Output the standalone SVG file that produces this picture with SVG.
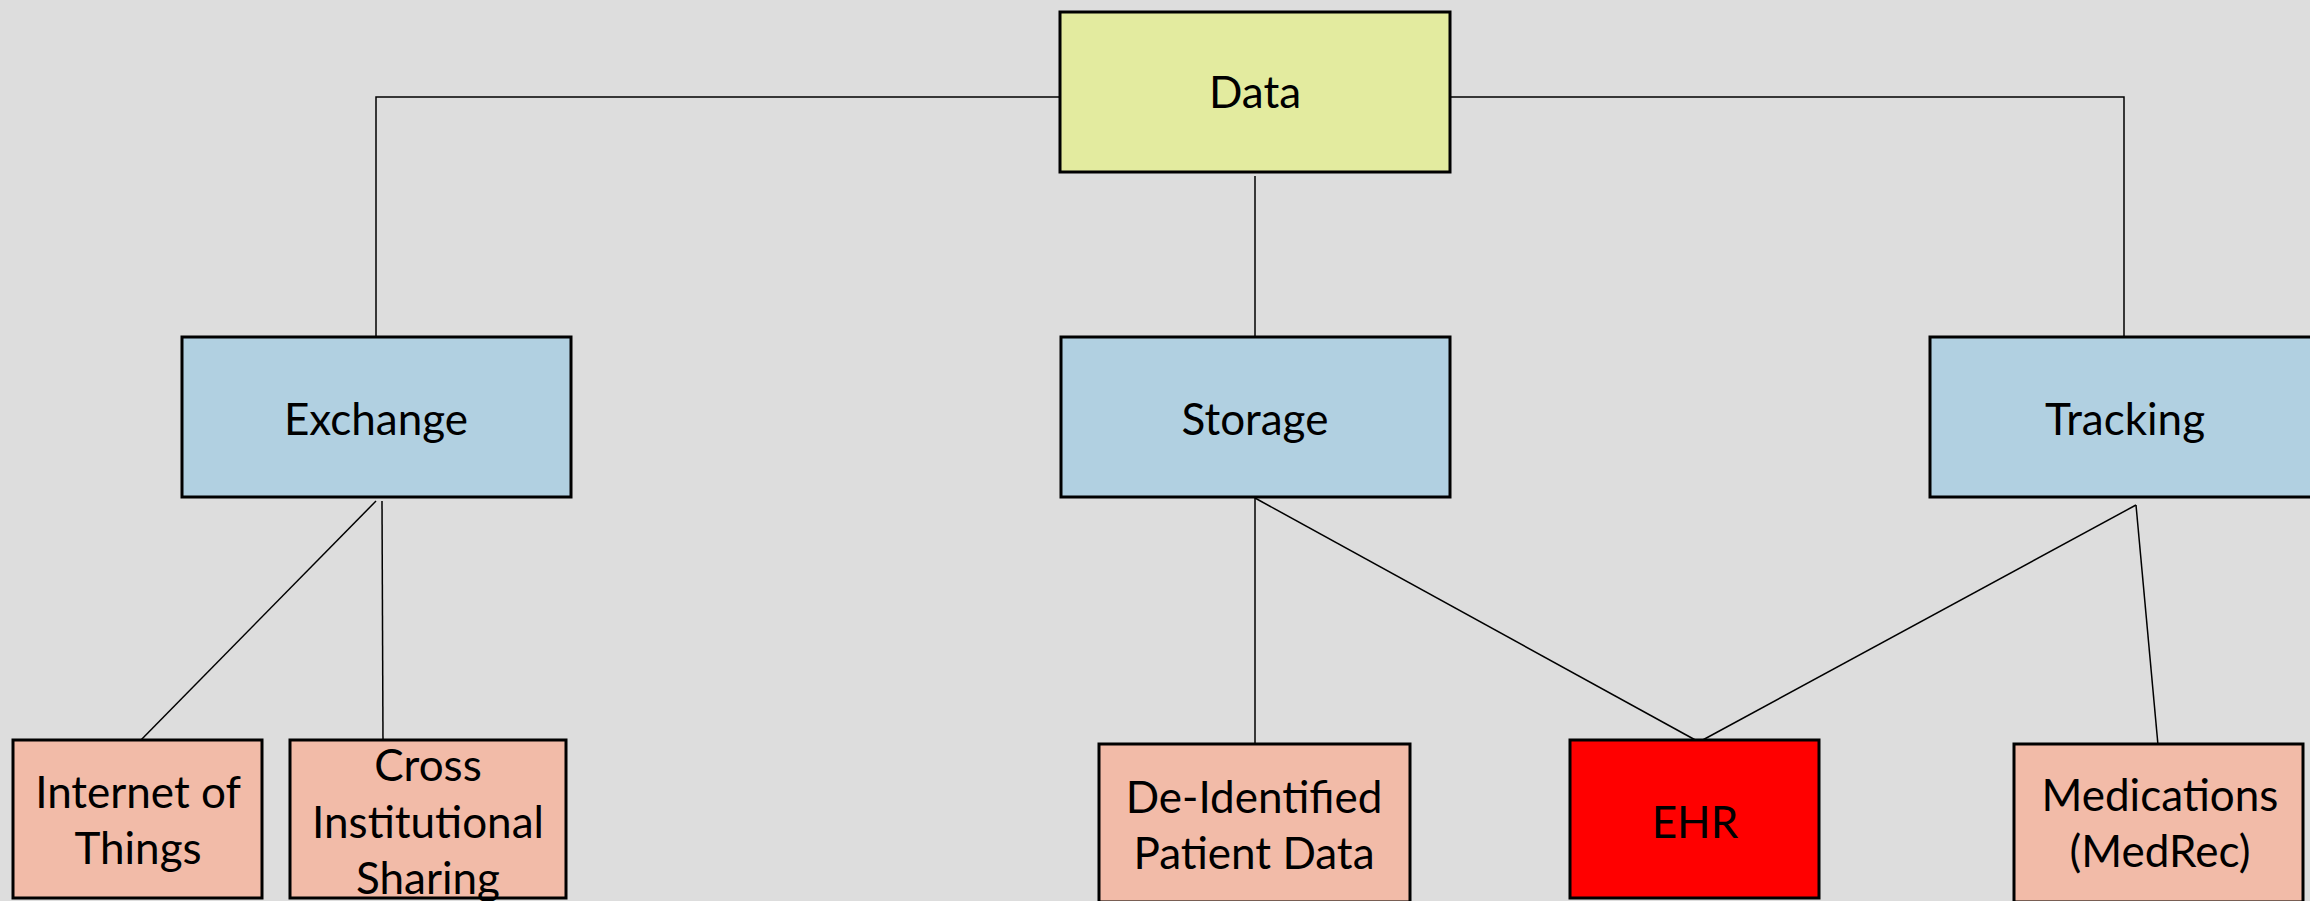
<svg xmlns="http://www.w3.org/2000/svg" width="2310" height="901" viewBox="0 0 2310 901">
<style>
.box{stroke:#000;stroke-width:3}
.top{fill:#e3eb9f}
.mid{fill:#b1d0e1}
.leaf{fill:#f2bba8}
.red{fill:#ff0000}
.lbl{font-family:Lato,"Liberation Sans",sans-serif;fill:#000;text-anchor:middle}
.big{font-size:44px}
.sm{font-size:44px}
.conn line,.conn polyline{stroke:#000;stroke-width:1.5;fill:none}
</style>
<rect x="0" y="0" width="2310" height="901" fill="#dddddd"/>
<g class="conn" id="connectors">
<polyline points="1060,97 376,97 376,342"/>
<polyline points="1450,97 2124,97 2124,342"/>
<line x1="1255" y1="176" x2="1255" y2="342"/>
<line x1="376" y1="501" x2="138" y2="743"/>
<line x1="382" y1="501" x2="383" y2="743"/>
<line x1="1255" y1="498" x2="1255" y2="744"/>
<line x1="1255" y1="498" x2="1699" y2="742"/>
<line x1="2136" y1="505" x2="1699" y2="742"/>
<line x1="2136" y1="505" x2="2158" y2="745"/>
</g>
<g id="data"><rect class="box top" x="1060" y="12" width="390" height="160"/><text class="lbl big" x="1255" y="108">Data</text></g>
<g id="exchange"><rect class="box mid" x="182" y="337" width="389" height="160"/><text class="lbl big" x="376" y="435">Exchange</text></g>
<g id="storage"><rect class="box mid" x="1061" y="337" width="389" height="160"/><text class="lbl big" x="1255" y="435">Storage</text></g>
<g id="tracking"><rect class="box mid" x="1930" y="337" width="390" height="160"/><text class="lbl big" x="2125" y="435">Tracking</text></g>
<g id="iot"><rect class="box leaf" x="13" y="740" width="249" height="158"/><text class="lbl sm" x="138" y="808">Internet of</text><text class="lbl sm" x="138" y="864">Things</text></g>
<g id="cross"><rect class="box leaf" x="290" y="740" width="276" height="158"/><text class="lbl sm" x="428" y="781">Cross</text><text class="lbl sm" x="428" y="838">Institutional</text><text class="lbl sm" x="428" y="894">Sharing</text></g>
<g id="deid"><rect class="box leaf" x="1099" y="744" width="311" height="158"/><text class="lbl sm" x="1254" y="813">De-Identified</text><text class="lbl sm" x="1254" y="869">Patient Data</text></g>
<g id="ehr"><rect class="box red" x="1570" y="740" width="249" height="158"/><text class="lbl sm" x="1695" y="838">EHR</text></g>
<g id="medications"><rect class="box leaf" x="2014" y="744" width="289" height="158"/><text class="lbl sm" x="2160" y="811">Medications</text><text class="lbl sm" x="2160" y="867">(MedRec)</text></g>
</svg>
